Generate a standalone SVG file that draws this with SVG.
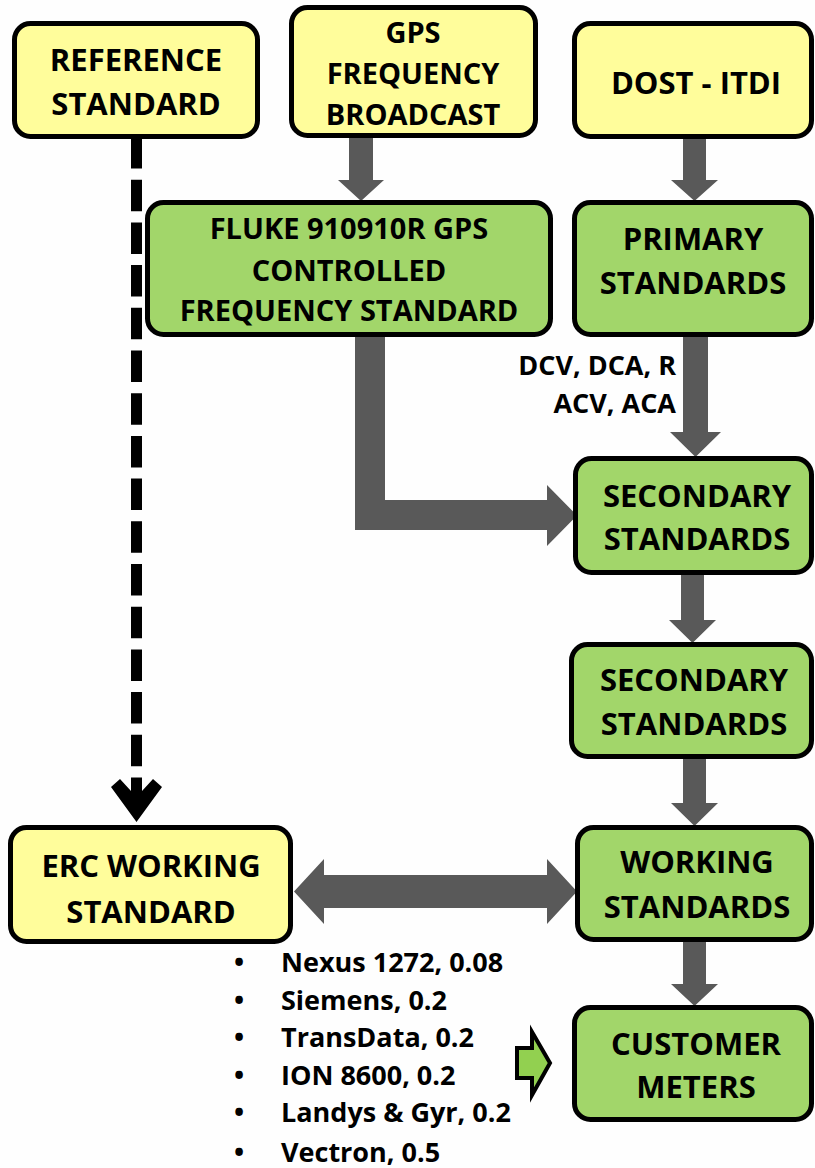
<svg xmlns="http://www.w3.org/2000/svg" width="815" height="1168" viewBox="0 0 815 1168">
<style>
.y{fill:#FFFD9B;stroke:#000;stroke-width:5}
.g{fill:#A2D66A;stroke:#000;stroke-width:5}
.t{font-family:"Open Sans","Liberation Sans",sans-serif;font-weight:700;text-anchor:middle;fill:#000;font-size:31px}
.s{font-size:29px}
.l{font-family:"Open Sans","Liberation Sans",sans-serif;font-weight:700;fill:#000;font-size:27px}
.a{fill:#595959}
</style>
<rect width="815" height="1168" fill="#FEFEFE"/>
<g id="connectors">
<line x1="136.5" y1="137" x2="136.5" y2="812" stroke="#000" stroke-width="11" stroke-dasharray="31.5 11.2"/>
<polygon points="111,787 120,779 136.5,797 153,779 162,787 136.5,822" fill="#000"/>
<polygon class="a" points="349,136 373,136 373,180 384,180 361,201 338,180 349,180"/>
<polygon class="a" points="683,137 706,137 706,180 718,180 694.5,201 671,180 683,180"/>
<polygon class="a" points="683,335 708,335 708,432 721,432 695.5,457 670,432 683,432"/>
<polygon class="a" points="355,335 385,335 385,500 547,500 547,485 577,515.5 547,546 547,530 355,530"/>
<polygon class="a" points="681,573 704,573 704,620 716,620 692.5,643 669,620 681,620"/>
<polygon class="a" points="683,757 706,757 706,803 718,803 694.5,826 671,803 683,803"/>
<polygon class="a" points="683,940 706,940 706,984 718,984 694.5,1006 671,984 683,984"/>
<polygon class="a" points="294,891.5 324,859 324,875 547,875 547,859 577,891.5 547,924 547,908 324,908 324,924"/>
<polygon points="517,1048 532,1048 532,1032 550,1063 532,1095 532,1078 517,1078" fill="#92D050" stroke="#000" stroke-width="4" stroke-linejoin="miter"/>
</g>
<g id="reference">
<rect class="y" x="14.5" y="23.5" width="243" height="113" rx="16"/>
<text class="t" x="136" y="71">REFERENCE</text>
<text class="t" x="136" y="115">STANDARD</text>
</g>
<g id="gps">
<rect class="y" x="291.5" y="7.5" width="244" height="128" rx="16"/>
<text class="t s" x="413" y="43">GPS</text>
<text class="t s" x="413" y="84">FREQUENCY</text>
<text class="t s" x="413" y="125">BROADCAST</text>
</g>
<g id="dost">
<rect class="y" x="574.5" y="23.5" width="237" height="113" rx="16"/>
<text class="t" x="696" y="94">DOST - ITDI</text>
</g>
<g id="fluke">
<rect class="g" x="147.5" y="202.5" width="403" height="132" rx="16"/>
<text class="t s" x="349" y="239">FLUKE 910910R GPS</text>
<text class="t s" x="349" y="281">CONTROLLED</text>
<text class="t s" x="349" y="321">FREQUENCY STANDARD</text>
</g>
<g id="primary">
<rect class="g" x="574.5" y="202.5" width="237" height="132" rx="16"/>
<text class="t" x="693" y="250">PRIMARY</text>
<text class="t" x="693" y="294">STANDARDS</text>
</g>
<g id="label-dc">
<text class="l" x="676" y="375" text-anchor="end">DCV, DCA, R</text>
<text class="l" x="676" y="413" text-anchor="end">ACV, ACA</text>
</g>
<g id="secondary1">
<rect class="g" x="575.5" y="458.5" width="236" height="114" rx="16"/>
<text class="t" x="697" y="507">SECONDARY</text>
<text class="t" x="697" y="550">STANDARDS</text>
</g>
<g id="secondary2">
<rect class="g" x="571.5" y="644.5" width="240" height="112" rx="16"/>
<text class="t" x="694" y="691">SECONDARY</text>
<text class="t" x="694" y="735">STANDARDS</text>
</g>
<g id="working">
<rect class="g" x="577.5" y="827.5" width="234" height="112" rx="16"/>
<text class="t" x="697" y="873">WORKING</text>
<text class="t" x="697" y="918">STANDARDS</text>
</g>
<g id="erc">
<rect class="y" x="10.5" y="827.5" width="280" height="114" rx="16"/>
<text class="t" x="151" y="877">ERC WORKING</text>
<text class="t" x="151" y="923">STANDARD</text>
</g>
<g id="customer">
<rect class="g" x="574.5" y="1007.5" width="237" height="112" rx="16"/>
<text class="t" x="696" y="1055">CUSTOMER</text>
<text class="t" x="696" y="1098">METERS</text>
</g>
<g id="meter-list">
<text class="l" x="239" y="972" text-anchor="middle">•</text><text class="l" x="281" y="972">Nexus 1272, 0.08</text>
<text class="l" x="239" y="1010" text-anchor="middle">•</text><text class="l" x="281" y="1010">Siemens, 0.2</text>
<text class="l" x="239" y="1047" text-anchor="middle">•</text><text class="l" x="281" y="1047">TransData, 0.2</text>
<text class="l" x="239" y="1085" text-anchor="middle">•</text><text class="l" x="281" y="1085">ION 8600, 0.2</text>
<text class="l" x="239" y="1122" text-anchor="middle">•</text><text class="l" x="281" y="1122">Landys &amp; Gyr, 0.2</text>
<text class="l" x="239" y="1162" text-anchor="middle">•</text><text class="l" x="281" y="1162">Vectron, 0.5</text>
</g>
</svg>
